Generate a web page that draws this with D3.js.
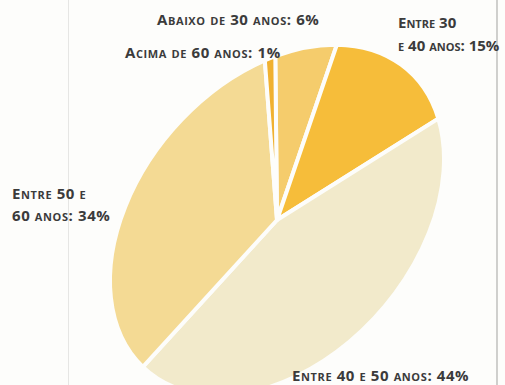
<!DOCTYPE html>
<html>
<head>
<meta charset="utf-8">
<script src="https://cdn.jsdelivr.net/npm/d3@7"></script>
<style>
  html, body { margin: 0; padding: 0; background: #fdfdfb; }
  svg { display: block; }
  .lbl { font-family: "Open Sans", "Noto Sans", sans-serif; font-weight: 700; fill: #3b3b3b; letter-spacing: 0.6px; }
  .lbl.tight { letter-spacing: 0; }
</style>
</head>
<body>
<svg id="chart" width="505" height="385"></svg>
<script>
// Age groups, clockwise from the top
const categories = ["Abaixo de 30 anos", "Entre 30 e 40 anos", "Entre 40 e 50 anos", "Entre 50 e 60 anos", "Acima de 60 anos"];
const shares = [6, 15, 44, 34, 1];
const sliceColors = ["#f5cc6c", "#f6bd3a", "#f2eacb", "#f4da94", "#f0b130"];
const labelLines = [
  ["Abaixo de 30 anos: 6%"],
  ["Entre 30", "e 40 anos: 15%"],
  ["Entre 40 e 50 anos: 44%"],
  ["Entre 50 e", "60 anos: 34%"],
  ["Acima de 60 anos: 1%"]
];

const svg = d3.select("#chart");
const W = 505, H = 385;

// frame rules
svg.append("line").attr("x1", 68.5).attr("x2", 68.5).attr("y1", 0).attr("y2", H)
  .attr("stroke", "#e6e6e4").attr("stroke-width", 1);
svg.append("line").attr("x1", 497).attr("x2", 497).attr("y1", 0).attr("y2", H)
  .attr("stroke", "#c4c4c2").attr("stroke-width", 1.6);

// The pie is drawn on a circle and then tilted into an ellipse
const R = 100;
const cx = 277, cy = 220;
const semiMajor = 199, semiMinor = 138;
const tilt = -49 * Math.PI / 180;
const start = 38 * Math.PI / 180;

const pie = d3.pie().sort(null).value(d => d)
  .startAngle(start).endAngle(start + 2 * Math.PI);
const arc = d3.arc().innerRadius(0).outerRadius(R);

const kA = semiMajor / R, kB = semiMinor / R;
const g = svg.append("g")
  .attr("transform", `matrix(${kA * Math.cos(tilt)},${kA * Math.sin(tilt)},${-kB * Math.sin(tilt)},${kB * Math.cos(tilt)},${cx},${cy})`);

g.selectAll("path").data(pie(shares)).join("path")
  .attr("d", arc)
  .attr("fill", (d, i) => sliceColors[i])
  .attr("stroke", "#fdfdfb")
  .attr("stroke-width", 4)
  .attr("stroke-linejoin", "round")
  .attr("vector-effect", "non-scaling-stroke");

// small-caps labels: capitals, digits and signs at full size, lower case as smaller capitals
const bigSize = 15, smallSize = 11;
function smallCaps(sel, str) {
  const runs = [];
  for (const ch of str) {
    const low = ch !== ch.toUpperCase();
    const last = runs[runs.length - 1];
    if (last && last.low === low) last.s += ch; else runs.push({ low, s: ch });
  }
  runs.forEach(r => {
    sel.append("tspan")
      .attr("font-size", r.low ? smallSize : bigSize)
      .text(r.low ? r.s.toUpperCase() : r.s);
  });
}

const labelPos = [
  [[157, 25]],
  [[398, 28], [398, 51]],
  [[292, 381]],
  [[12, 199], [12, 221]],
  [[125, 58]]
];
labelLines.forEach((lines, i) => {
  lines.forEach((s, j) => {
    const t = svg.append("text").attr("class", "lbl")
      .classed("tight", i === 1)
      .attr("x", labelPos[i][j][0]).attr("y", labelPos[i][j][1]);
    smallCaps(t, s);
  });
});
</script>
</body>
</html>
